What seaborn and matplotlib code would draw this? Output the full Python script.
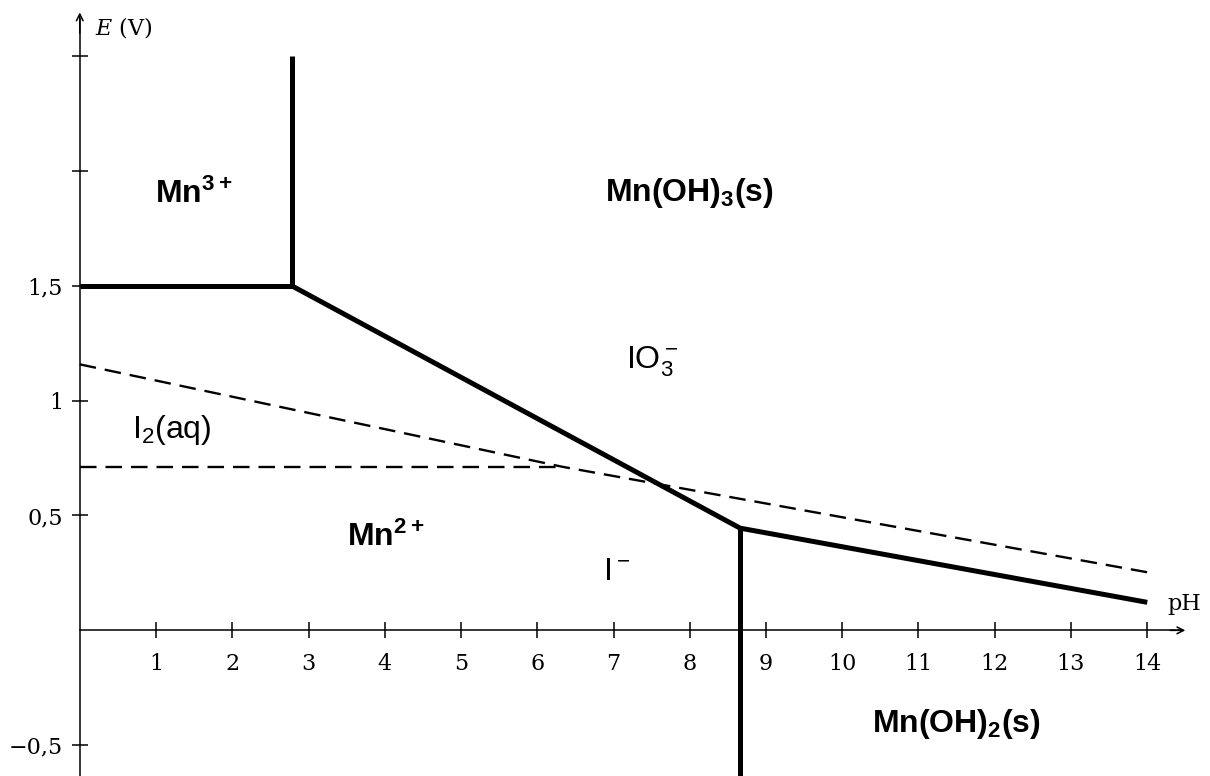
import pandas as pd
import seaborn as sns
import matplotlib
matplotlib.use('Agg')
import matplotlib.pyplot as plt

# boundaries of the Mn diagram (solid lines)
mn3_ph = [0, 2.78, 2.78]
mn3_e = [1.5, 1.5, 2.5]
mn_diag_ph = [2.78, 8.66, 14]
mn_diag_e = [1.5, 0.445, 0.122]
mn2_ph = [8.66, 8.66]
mn2_e = [0.445, -0.64]

# boundaries of the iodine diagram (dashed lines)
i2_low_ph = [0, 6.33]
i2_low_e = [0.712, 0.712]
i2_up_ph = [0, 6.33, 14]
i2_up_e = [1.158, 0.712, 0.253]

x_ticks = list(range(1, 15))
y_ticks = [-0.5, 0.5, 1, 1.5, 2, 2.5]
y_labels = ['\u22120,5', '0,5', '1', '1,5', '', '']

# species labels: text, pH, E, bold
species = ['Mn$^{3+}$', 'Mn(OH)$_3$(s)', 'IO$_3^-$', 'I$_2$(aq)', 'Mn$^{2+}$', 'I$^-$', 'Mn(OH)$_2$(s)']
species_ph = [0.99, 6.89, 7.17, 0.69, 3.50, 6.86, 10.39]
species_e = [1.86, 1.87, 1.14, 0.836, 0.366, 0.218, -0.443]
species_bold = [True, True, False, False, True, False, True]

sns.set_theme(style='white')
plt.rcParams['text.color'] = 'black'
plt.rcParams['mathtext.fontset'] = 'custom'
plt.rcParams['mathtext.rm'] = 'Liberation Sans'
plt.rcParams['mathtext.bf'] = 'Liberation Sans:bold'
plt.rcParams['mathtext.it'] = 'DejaVu Serif:italic'

def segs(parts):
    rows = []
    for i, (xs, ys) in enumerate(parts):
        for x, y in zip(xs, ys):
            rows.append({'ph': x, 'E': y, 'seg': i})
    return pd.DataFrame(rows)

solid = segs([(mn3_ph, mn3_e), (mn_diag_ph, mn_diag_e), (mn2_ph, mn2_e)])
dashed = segs([(i2_low_ph, i2_low_e), (i2_up_ph, i2_up_e)])

fig = plt.figure(figsize=(12.1, 7.76), dpi=100)
ax = fig.add_axes([0, 0, 1, 1])
ax.set_facecolor('white')

sns.lineplot(data=solid, x='ph', y='E', units='seg', estimator=None, sort=False,
             color='black', lw=3.6, ax=ax, solid_joinstyle='miter', solid_capstyle='butt')
sns.lineplot(data=dashed, x='ph', y='E', units='seg', estimator=None, sort=False,
             color='black', lw=1.7, linestyle=(0, (7, 3.8)), ax=ax)

ax.set_xlim(-1.046, 14.823)
ax.set_ylim(-0.634, 2.744)

for s in ['top', 'right']:
    ax.spines[s].set_visible(False)
ax.spines['left'].set_position(('data', 0))
ax.spines['bottom'].set_position(('data', 0))
ax.spines['left'].set_bounds(-0.634, 2.66)
ax.spines['bottom'].set_bounds(0, 14.45)
for s in ['left', 'bottom']:
    ax.spines[s].set_color('black')
    ax.spines[s].set_linewidth(1.1)

ax.annotate('', xy=(0, 2.69), xytext=(0, 2.6),
            arrowprops=dict(arrowstyle='->', lw=1.1, color='black', shrinkA=0, shrinkB=0))
ax.annotate('', xy=(14.5, 0), xytext=(14.3, 0),
            arrowprops=dict(arrowstyle='->', lw=1.1, color='black', shrinkA=0, shrinkB=0))

ax.set_xticks(x_ticks)
ax.set_xticklabels([str(t) for t in x_ticks], family='DejaVu Serif', fontsize=16, color='black')
ax.set_yticks(y_ticks)
ax.set_yticklabels(y_labels, family='DejaVu Serif', fontsize=16, color='black')
ax.tick_params(axis='both', direction='inout', length=12, width=1.1, color='black',
               bottom=True, left=True)
ax.tick_params(axis='x', pad=10)
ax.tick_params(axis='y', pad=6)
ax.set_xlabel('')
ax.set_ylabel('')

ax.text(0.2, 2.595, '$\\mathit{E}$ (V)', family='DejaVu Serif', fontsize=16, va='baseline')
ax.text(14.27, 0.09, 'pH', family='DejaVu Serif', fontsize=16, va='baseline')

for lab, x, y, b in zip(species, species_ph, species_e, species_bold):
    if b:
        txt = '$\\mathbf{' + lab.replace('$', '') + '}$'
        ax.text(x, y, txt, fontsize=23, va='baseline', ha='left')
    else:
        txt = '$\\mathrm{' + lab.replace('$', '') + '}$'
        ax.text(x, y, txt, fontsize=23, va='baseline', ha='left')

plt.savefig('out.png', dpi=100)
